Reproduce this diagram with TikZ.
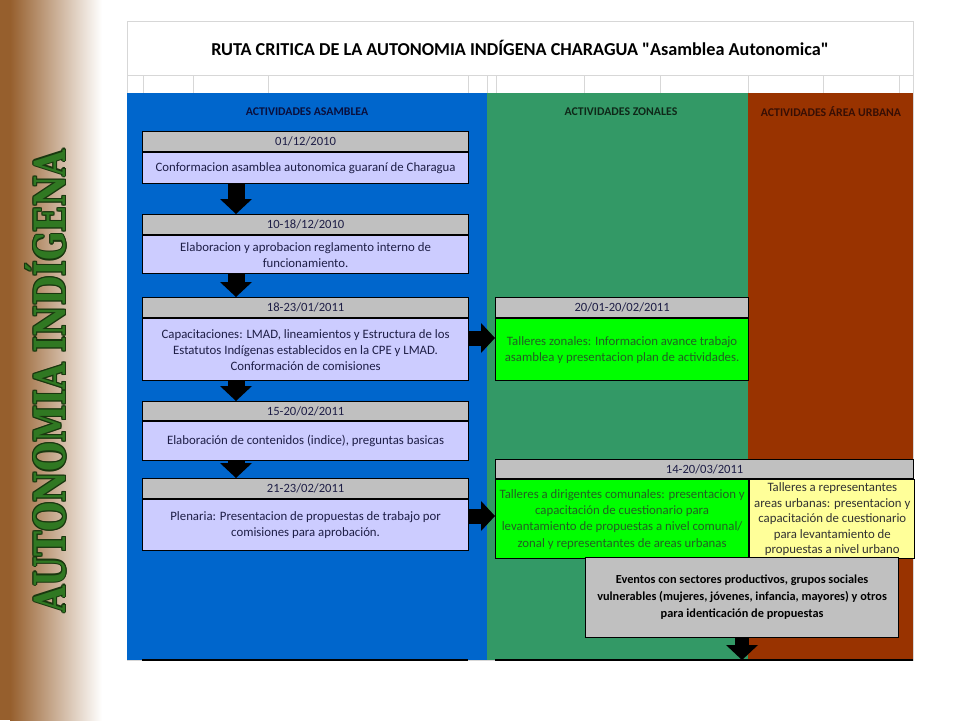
\documentclass[tikz,border=0pt]{standalone}
\usepackage{fontspec}
\setmainfont{Carlito}[Ligatures=TeXOff]
\newfontfamily\slab{DejaVu Serif Condensed}
\usetikzlibrary{arrows.meta,calc}
\definecolor{leftbrown}{RGB}{150,95,45}
\definecolor{colblue}{RGB}{0,102,204}
\definecolor{colgreen}{RGB}{51,153,102}
\definecolor{colbrown}{RGB}{153,51,0}
\definecolor{hdrgray}{RGB}{192,192,192}
\definecolor{lav}{RGB}{204,204,255}
\definecolor{brightgreen}{RGB}{0,255,0}
\definecolor{paleyellow}{RGB}{255,255,153}
\definecolor{txtnavy}{RGB}{30,30,70}
\definecolor{txtgreen}{RGB}{35,95,35}
\definecolor{txtgray}{RGB}{50,50,50}
\definecolor{gridgray}{RGB}{215,215,215}
\definecolor{vtgreen}{RGB}{48,120,34}
\definecolor{vtdark}{RGB}{25,55,15}
\definecolor{chblue}{RGB}{10,15,60}
\definecolor{chgreen}{RGB}{15,40,25}
\definecolor{chbrown}{RGB}{55,15,5}
\tikzset{
  hdr/.style={draw=black, line width=1.2pt, fill=hdrgray, anchor=north west, inner sep=0pt,
    font=\fontsize{12.6}{14}\selectfont, text=txtnavy},
  bodybox/.style={draw=black, line width=1.2pt, anchor=north west, inner sep=0pt, align=center,
    font=\fontsize{12.8}{16.2}\selectfont},
  lavbox/.style={bodybox, fill=lav, text=txtnavy},
  greenbox/.style={bodybox, fill=brightgreen, text=txtgreen},
  yellowbox/.style={bodybox, fill=paleyellow, text=txtgray, font=\fontsize{12.8}{15.6}\selectfont},
  graybox/.style={bodybox, fill=hdrgray, text=black, font=\bfseries\fontsize{12.3}{17}\selectfont},
  colhead/.style={font=\bfseries\fontsize{11.8}{13}\selectfont, inner sep=0pt},
  blk/.style={line width=17pt, black, -{Triangle[width=32pt,length=15pt,line width=0pt]}},
  blkr/.style={line width=15pt, black, -{Triangle[width=30pt,length=14pt,line width=0pt]}},
  vtext/.style={rotate=90, inner sep=0pt},
}
\newcommand{\vtitle}{\resizebox{462pt}{40pt}{\slab\bfseries AUTONOMIA INDÍGENA}}
\begin{document}
\begin{tikzpicture}[x=1pt,y=-1pt]
\useasboundingbox (0,0) rectangle (960,720);
\fill[white] (0,0) rectangle (960,720);
% left gradient strip
\fill[leftbrown] (0,0) rectangle (10,720);
\shade[left color=leftbrown, right color=white] (10,0) rectangle (102,720);
% vertical title with outline
\foreach \dx/\dy [count=\i] in {-1.2/0,1.2/0,0/-1.2,0/1.2,-0.9/-0.9,0.9/0.9,-0.9/0.9,0.9/-0.9}
  \node[vtext, text=vtdark] (vo\i) at (46+\dx,381+\dy) {\vtitle};
\node[vtext, text=vtgreen] (vt) at (46,381) {\vtitle};
% table frame
\draw[gridgray, fill=white] (127,21) rectangle (913,660);
\node[font=\bfseries\fontsize{18.2}{20}\selectfont, inner sep=0pt] (title) at (520,48)
  {RUTA CRITICA DE LA AUTONOMIA INDÍGENA CHARAGUA "Asamblea Autonomica"};
\draw[gridgray] (127,75) -- (913,75);
\foreach \x in {143,193,268,468,487,496,584,660,748,823,899}
  \draw[gridgray] (\x,75) -- (\x,93);
% columns
\fill[colblue] (127,93) rectangle (487,660);
\fill[colgreen] (487,93) rectangle (748,660);
\fill[colbrown] (748,93) rectangle (913,660);
\node[colhead, text=chblue] (ca) at (307,112) {ACTIVIDADES ASAMBLEA};
\node[colhead, text=chgreen] (cz) at (621,112) {ACTIVIDADES ZONALES};
\node[colhead, text=chbrown] (cu) at (831,112) {ACTIVIDADES ÁREA URBANA};
% asamblea boxes
\node[hdr, minimum width=326pt, minimum height=20pt] (h1) at (142,131) {01/12/2010};
\node[lavbox, minimum width=326pt, minimum height=31pt] (b1) at (h1.south west)
  {Conformacion asamblea autonomica guaraní de Charagua};
\node[hdr, minimum width=326pt, minimum height=20pt] (h2) at (142,214) {10-18/12/2010};
\node[lavbox, minimum width=326pt, minimum height=38pt] (b2) at (h2.south west)
  {Elaboracion y aprobacion reglamento interno de\\funcionamiento.};
\node[hdr, minimum width=326pt, minimum height=20pt] (h3) at (142,297) {18-23/01/2011};
\node[lavbox, minimum width=326pt, minimum height=62pt] (b3) at (h3.south west)
  {Capacitaciones: LMAD, lineamientos y Estructura de los\\Estatutos Indígenas establecidos en la CPE y LMAD.\\Conformación de comisiones};
\node[hdr, minimum width=326pt, minimum height=19pt] (h4) at (142,401) {15-20/02/2011};
\node[lavbox, minimum width=326pt, minimum height=39pt] (b4) at (h4.south west)
  {Elaboración de contenidos (indice), preguntas basicas};
\node[hdr, minimum width=326pt, minimum height=20pt] (h5) at (142,478) {21-23/02/2011};
\node[lavbox, minimum width=326pt, minimum height=51pt] (b5) at (h5.south west)
  {Plenaria: Presentacion de propuestas de trabajo por\\comisiones para aprobación.};
% zonal boxes
\node[hdr, minimum width=253pt, minimum height=20pt] (gh1) at (495,297) {20/01-20/02/2011};
\node[greenbox, minimum width=253pt, minimum height=62pt] (gb1) at (gh1.south west)
  {Talleres zonales: Informacion avance trabajo\\asamblea y presentacion plan de actividades.};
\node[hdr, minimum width=418pt, minimum height=19pt] (h6) at (495,459) {14-20/03/2011};
\node[greenbox, minimum width=253pt, minimum height=79pt] (b6l) at (h6.south west)
  {Talleres a dirigentes comunales: presentacion y\\capacitación de cuestionario para\\levantamiento de propuestas a nivel comunal/\\zonal y representantes de areas urbanas};
\node[yellowbox, minimum width=165pt, minimum height=79pt] (b6r) at (b6l.north east)
  {Talleres a representantes\\areas urbanas: presentacion y\\capacitación de cuestionario\\para levantamiento de\\propuestas a nivel urbano};
\node[graybox, minimum width=313pt, minimum height=80pt] (ev) at (585,557)
  {Eventos con sectores productivos, grupos sociales\\vulnerables (mujeres, jóvenes, infancia, mayores) y otros\\para identicación de propuestas};
% bottom lines
\coordinate (bl1) at (142,660);
\coordinate (bl2) at (468,660);
\coordinate (bl3) at (495,660);
\coordinate (bl4) at (913,660);
\draw[line width=1.2pt] (bl1) -- (bl2);
\draw[line width=1.2pt] (bl3) -- (bl4);
% arrows
\coordinate (ax) at (236,0);
\draw[blk] (b1.south -| ax) -- (h2.north -| ax);
\draw[blk] (b2.south -| ax) -- (h3.north -| ax);
\draw[blk] (b3.south -| ax) -- (h4.north -| ax);
\draw[blk] (b4.south -| ax) -- (h5.north -| ax);
\coordinate (r1) at (0,338);
\coordinate (r2) at (0,516);
\draw[blkr] (b3.east |- r1) -- (gb1.west |- r1);
\draw[blkr] (b5.east |- r2) -- (b6l.west |- r2);
\coordinate (ex) at (742,0);
\draw[blk, line width=14pt] (ev.south -| ex) -- (bl4 -| ex);
\end{tikzpicture}
\end{document}
